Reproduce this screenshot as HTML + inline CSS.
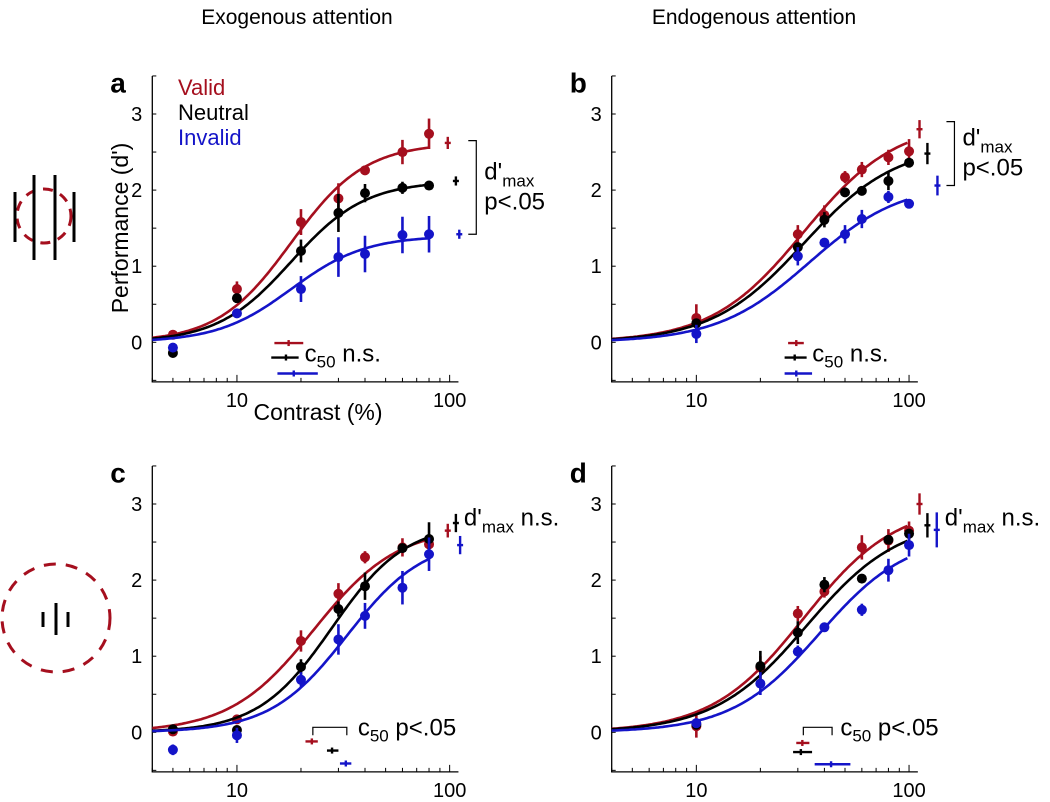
<!DOCTYPE html>
<html><head><meta charset="utf-8"><style>
html,body{margin:0;padding:0;background:#fff;}
svg{display:block;font-family:"Liberation Sans",Arial,sans-serif;}
</style></head><body>
<svg id="fig" width="1050" height="802" viewBox="0 0 1050 802">
<text x="297" y="24" font-size="21" text-anchor="middle">Exogenous attention</text>
<text x="754" y="24" font-size="21" text-anchor="middle">Endogenous attention</text>
<g>
<circle cx="44" cy="216" r="27" fill="none" stroke="#a50f1e" stroke-width="3" stroke-dasharray="10 8"/>
<line x1="15" y1="192" x2="15" y2="242" stroke="#000" stroke-width="3"/>
<line x1="34" y1="175" x2="34" y2="260" stroke="#000" stroke-width="3"/>
<line x1="55" y1="175" x2="55" y2="260" stroke="#000" stroke-width="3"/>
<line x1="74" y1="192" x2="74" y2="242" stroke="#000" stroke-width="3"/>
</g>
<g>
<circle cx="56" cy="618" r="54" fill="none" stroke="#a50f1e" stroke-width="3" stroke-dasharray="12 10"/>
<line x1="43" y1="612" x2="43" y2="627" stroke="#000" stroke-width="3"/>
<line x1="56" y1="603" x2="56" y2="635" stroke="#000" stroke-width="3"/>
<line x1="68" y1="612" x2="68" y2="627" stroke="#000" stroke-width="3"/>
</g>
<text x="128" y="228" font-size="23" text-anchor="middle" transform="rotate(-90 128 228)">Performance (d')</text>
<text x="318" y="420" font-size="23" text-anchor="middle">Contrast (%)</text>
<text x="178" y="95" font-size="22" fill="#a50f1e">Valid</text>
<text x="178" y="120" font-size="22" fill="#000">Neutral</text>
<text x="178" y="145" font-size="22" fill="#1414c8">Invalid</text>
</svg>
<script>
// ---- data ----
const colors = ["#a50f1e", "#000000", "#1414c8"];
const seriesNames = ["valid", "neutral", "invalid"];
const panelLetters = ["a", "b", "c", "d"];
const xTickLabels = ["10", "100"];
const yTickLabels = ["0", "1", "2", "3"];
const contrastA = [5, 10, 20, 30, 40, 60, 80];
const contrastB = [10, 30, 40, 50, 60, 80, 100];
const contrastC = [5, 10, 20, 30, 40, 60, 80];
const contrastD = [10, 20, 30, 40, 60, 80, 100];
const dA = [[0.1, 0.7, 1.58, 1.89, 2.26, 2.5, 2.74], [-0.14, 0.58, 1.2, 1.7, 1.96, 2.03, 2.06], [-0.07, 0.38, 0.7, 1.12, 1.16, 1.41, 1.42]];
const dB = [[0.32, 1.42, 1.67, 2.17, 2.27, 2.43, 2.51], [0.25, 1.25, 1.61, 1.97, 1.99, 2.12, 2.36], [0.11, 1.13, 1.31, 1.42, 1.62, 1.91, 1.82]];
const dC = [[0.01, 0.17, 1.2, 1.82, 2.3, 2.43, 2.47], [0.04, 0.03, 0.86, 1.62, 1.92, 2.42, 2.54], [-0.23, -0.04, 0.69, 1.22, 1.53, 1.9, 2.34]];
const dD = [[0.08, 0.85, 1.56, 1.85, 2.43, 2.52, 2.65], [0.1, 0.87, 1.31, 1.94, 2.02, 2.53, 2.61], [0.12, 0.64, 1.06, 1.38, 1.61, 2.13, 2.46]];
const eA = [[0.04, 0.1, 0.17, 0.2, 0.06, 0.16, 0.2], [0.04, 0.04, 0.15, 0.25, 0.12, 0.08, 0.05], [0.04, 0.05, 0.17, 0.26, 0.24, 0.24, 0.24]];
const eB = [[0.18, 0.12, 0.13, 0.08, 0.1, 0.1, 0.16], [0.05, 0.05, 0.1, 0.06, 0.06, 0.12, 0.05], [0.12, 0.12, 0.06, 0.12, 0.12, 0.08, 0.04]];
const eC = [[0.04, 0.05, 0.14, 0.14, 0.08, 0.12, 0.1], [0.03, 0.03, 0.1, 0.1, 0.18, 0.06, 0.22], [0.07, 0.1, 0.1, 0.2, 0.17, 0.22, 0.22]];
const eD = [[0.15, 0.15, 0.1, 0.08, 0.16, 0.15, 0.12], [0.03, 0.2, 0.15, 0.1, 0.05, 0.06, 0.06], [0.03, 0.15, 0.08, 0.06, 0.08, 0.15, 0.15]];
const fitA = [[2.62, 18, 2.5], [2.12, 18, 2.5], [1.4, 18, 2.5]];
const fitB = [[2.9, 32, 2], [2.6, 32, 2], [2.1, 34, 2]];
const fitC = [[2.7, 23, 2.2], [2.75, 28, 2.5], [2.55, 33, 2.4]];
const fitD = [[3.0, 32, 2], [2.8, 33, 2], [2.6, 38, 2.1]];
const fitMax = [80, 100, 80, 100];
const c50A = [[17.5, 15, 20.5, -0.01], [17, 14.5, 19.5, -0.2], [18.5, 15.5, 24, -0.41]];
const c50B = [[29.5, 27, 32, -0.01], [29, 26, 33, -0.2], [29.5, 26, 35, -0.41]];
const c50C = [[22.5, 21, 24, -0.12], [28, 26.5, 30, -0.24], [32.5, 30.5, 34.5, -0.41]];
const c50D = [[31.5, 29.5, 34, -0.14], [31, 28.5, 35, -0.26], [43, 36, 53, -0.42]];
const dmaxA = [[98, 2.62, 0.08], [107, 2.12, 0.06], [111, 1.42, 0.06]];
const dmaxB = [[112, 2.8, 0.12], [122, 2.48, 0.14], [136, 2.06, 0.13]];
const dmaxC = [[98, 2.65, 0.09], [107, 2.75, 0.12], [112, 2.46, 0.12]];
const dmaxD = [[112, 3.0, 0.14], [122, 2.72, 0.16], [135, 2.66, 0.23]];

const panels = [
  {left: 152.3, zero: 342.3, c: contrastA, d: dA, e: eA, fit: fitA, c50: c50A, dmax: dmaxA},
  {left: 611.7, zero: 342.3, c: contrastB, d: dB, e: eB, fit: fitB, c50: c50B, dmax: dmaxB},
  {left: 152.3, zero: 732.3, c: contrastC, d: dC, e: eC, fit: fitC, c50: c50C, dmax: dmaxC},
  {left: 611.7, zero: 732.3, c: contrastD, d: dD, e: eD, fit: fitD, c50: c50D, dmax: dmaxD}
];
const NS = "http://www.w3.org/2000/svg";
const svg = document.getElementById("fig");
const DEC = 212.7, UNIT = 76.1, XMIN = 4, XMAX = 110;
function mk(tag, attrs, parent) {
  const el = document.createElementNS(NS, tag);
  for (const k in attrs) el.setAttribute(k, attrs[k]);
  (parent || svg).appendChild(el);
  return el;
}
panels.forEach((p, pi) => {
  const xs = c => p.left + (Math.log10(c) - Math.log10(XMIN)) * DEC;
  const ys = v => p.zero - v * UNIT;
  const g = mk("g", {});
  
  
  const lt = mk("text", {x: p.left - 42, y: p.zero - 250, "font-size": 28, "font-weight": "bold"}, g);
  lt.textContent = panelLetters[pi];
  
  
  const yTop = ys(3.5), yBot = ys(-0.52), xR = xs(XMAX);
  const ax = mk("path", {d: `M${p.left},${yTop} L${p.left},${yBot} L${xR},${yBot}`, fill: "none", stroke: "#000", "stroke-width": 1.3}, g);
  
  
  for (let v = -0.5; v <= 3.5; v += 0.5) {
    mk("line", {x1: p.left, x2: p.left + 4, y1: ys(v), y2: ys(v), stroke: "#000", "stroke-width": 1}, g);
  }
  yTickLabels.forEach(t => {
    const tx = mk("text", {x: p.left - 10, y: ys(+t) + 7, "font-size": 20, "text-anchor": "end"}, g);
    tx.textContent = t;
    
    
  });
  for (let dec = 1; dec <= 100; dec *= 10) for (let m = 1; m < 10; m++) {
    const c = dec * m; if (c < XMIN || c > XMAX) continue;
    const maj = (m === 1);
    mk("line", {x1: xs(c), x2: xs(c), y1: yBot, y2: yBot - (maj ? 7 : 4), stroke: "#000", "stroke-width": 1}, g);
  }
  xTickLabels.forEach(t => {
    const tx = mk("text", {x: xs(+t), y: yBot + 25, "font-size": 20, "text-anchor": "middle"}, g);
    tx.textContent = t;
    
    
  });
  [0, 1, 2].forEach(si => {
    const col = colors[si];
    const [dm, c50, n] = p.fit[si];
    let d = "";
    for (let lc = Math.log10(XMIN); lc <= Math.log10(fitMax[pi]) + 1e-9; lc += 0.01) {
      const c = Math.pow(10, lc);
      const v = dm * Math.pow(c, n) / (Math.pow(c, n) + Math.pow(c50, n));
      d += (d ? "L" : "M") + xs(c).toFixed(1) + "," + ys(v).toFixed(1);
    }
    const fl = mk("path", {d: d, fill: "none", stroke: col, "stroke-width": 2.6}, g);
    
    
    p.c.forEach((c, k) => {
      const v = p.d[si][k], e = p.e[si][k];
      const eb = mk("line", {x1: xs(c), x2: xs(c), y1: ys(v - e), y2: ys(v + e), stroke: col, "stroke-width": 2.6}, g);
      
      
      const pt = mk("circle", {cx: xs(c), cy: ys(v), r: 5, fill: col}, g);
      
      
    });
    const [cc, clo, chi, cy] = p.c50[si];
    const h1 = mk("line", {x1: xs(clo), x2: xs(chi), y1: ys(cy), y2: ys(cy), stroke: col, "stroke-width": 2.4}, g);
    
    
    mk("line", {x1: xs(cc), x2: xs(cc), y1: ys(cy) - 3, y2: ys(cy) + 3, stroke: col, "stroke-width": 2.4}, g);
    const [dx, dv, de] = p.dmax[si];
    const v1 = mk("line", {x1: xs(dx), x2: xs(dx), y1: ys(dv - de), y2: ys(dv + de), stroke: col, "stroke-width": 2.4}, g);
    
    
    mk("line", {x1: xs(dx) - 3, x2: xs(dx) + 3, y1: ys(dv), y2: ys(dv), stroke: col, "stroke-width": 2.4}, g);
  });
  const bottom = pi >= 2;
  const c50x = bottom ? xs(p.c50[0][0]) + (pi === 2 ? 46 : 38) : xs(p.c50[0][0]) + 16;
  const c50y = bottom ? p.zero + 3 : p.zero + 19;
  const ct = mk("text", {x: c50x, y: c50y, "font-size": 24}, g);
  ct.innerHTML = `c<tspan font-size="17" dy="6">50</tspan><tspan dy="-6"> ${bottom ? 'p&lt;.05' : 'n.s.'}</tspan>`;
  
  
  if (bottom) {
    const bx1 = xs(p.c50[0][0]) + 1, bx2 = xs(p.c50[2][0]) + 1, by = p.zero - 5;
    const br = mk("path", {d: `M${bx1},${by + 8} L${bx1},${by} L${bx2},${by} L${bx2},${by + 8}`, fill: "none", stroke: "#000", "stroke-width": 1.2}, g);
    
    
  }
  const dtx = bottom ? xs(p.dmax[pi === 2 ? 1 : 2][0]) + 8 : xs(p.dmax[2][0]) + 20;
  if (!bottom) {
    const yt = ys(p.dmax[0][1] + (pi === 0 ? 0.03 : 0.1)), yb = ys(p.dmax[2][1]);
    const bx = dtx - 3;
    const br = mk("path", {d: `M${bx - 8},${yt} L${bx},${yt} L${bx},${yb} L${bx - 8},${yb}`, fill: "none", stroke: "#000", "stroke-width": 1.2}, g);
    
    
    const t1 = mk("text", {x: bx + 8, y: (yt + yb) / 2 - 8, "font-size": 24}, g);
    t1.innerHTML = `d'<tspan font-size="17" dy="7">max</tspan>`;
    
    
    const t2 = mk("text", {x: bx + 8, y: (yt + yb) / 2 + 22, "font-size": 24}, g);
    t2.textContent = "p<.05";
    
    
  } else {
    const t1 = mk("text", {x: dtx, y: ys(2.72), "font-size": 24}, g);
    t1.innerHTML = `d'<tspan font-size="17" dy="7">max</tspan><tspan dy="-7"> n.s.</tspan>`;
    
    
  }
});
</script>
</body></html>
